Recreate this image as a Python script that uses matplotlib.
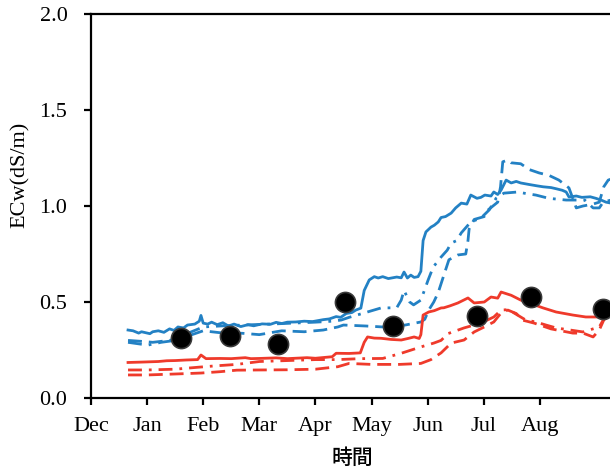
import matplotlib
matplotlib.use("Agg")
import matplotlib.pyplot as plt
import numpy as np

# Month positions: 0 = start of Dec, 1 = Jan, ... 8 = Aug
month_labels = ["Dec", "Jan", "Feb", "Mar", "Apr", "May", "Jun", "Jul", "Aug"]
y_ticks = [0.0, 0.5, 1.0, 1.5, 2.0]

# Simulated ECw series (month position, dS/m)
blue_solid = [
    (0.66, 0.354), (0.75, 0.350), (0.85, 0.338), (0.90, 0.345), (1.05, 0.335),
    (1.10, 0.345), (1.20, 0.350), (1.30, 0.342), (1.40, 0.360), (1.48, 0.352),
    (1.55, 0.370), (1.65, 0.365), (1.72, 0.380), (1.85, 0.385), (1.93, 0.400),
    (1.96, 0.430), (2.00, 0.390), (2.08, 0.385), (2.15, 0.395), (2.25, 0.382),
    (2.35, 0.392), (2.45, 0.375), (2.55, 0.385), (2.67, 0.372), (2.80, 0.382),
    (2.90, 0.376), (3.05, 0.386), (3.20, 0.384), (3.30, 0.394), (3.40, 0.388),
    (3.50, 0.395), (3.65, 0.396), (3.80, 0.400), (3.95, 0.398), (4.14, 0.408),
    (4.25, 0.412), (4.37, 0.424), (4.45, 0.420), (4.55, 0.440), (4.65, 0.445),
    (4.72, 0.458), (4.81, 0.468), (4.87, 0.560), (4.96, 0.615), (5.05, 0.632),
    (5.12, 0.625), (5.20, 0.632), (5.30, 0.622), (5.45, 0.630), (5.53, 0.626),
    (5.58, 0.656), (5.64, 0.625), (5.70, 0.640), (5.76, 0.628), (5.83, 0.632),
    (5.88, 0.660), (5.92, 0.820), (5.97, 0.865), (6.06, 0.890), (6.12, 0.900),
    (6.19, 0.917), (6.24, 0.940), (6.32, 0.945), (6.42, 0.963), (6.50, 0.990),
    (6.60, 1.015), (6.70, 1.010), (6.77, 1.057), (6.88, 1.040), (6.95, 1.045),
    (7.02, 1.057), (7.13, 1.052), (7.18, 1.073), (7.25, 1.060), (7.31, 1.083),
    (7.40, 1.135), (7.49, 1.120), (7.58, 1.128), (7.66, 1.120), (7.81, 1.112),
    (7.95, 1.105), (8.06, 1.100), (8.20, 1.096), (8.29, 1.090), (8.40, 1.082),
    (8.47, 1.073), (8.52, 1.047), (8.65, 1.052), (8.75, 1.045), (8.90, 1.048),
    (9.00, 1.040), (9.10, 1.030), (9.18, 1.020), (9.27, 1.015),
]
blue_dash = [
    (0.66, 0.300), (0.90, 0.295), (1.10, 0.290), (1.40, 0.300), (1.80, 0.330),
    (2.00, 0.350), (2.30, 0.340), (2.70, 0.337), (3.00, 0.330), (3.40, 0.350),
    (3.80, 0.345), (4.14, 0.354), (4.40, 0.370), (4.50, 0.380), (4.90, 0.375),
    (5.20, 0.370), (5.60, 0.380), (5.88, 0.396), (5.95, 0.410), (6.02, 0.458),
    (6.11, 0.500), (6.19, 0.550), (6.29, 0.640), (6.38, 0.720), (6.54, 0.745),
    (6.68, 0.750), (6.72, 0.820), (6.74, 0.880), (6.83, 0.930), (7.01, 0.945),
    (7.08, 0.980), (7.25, 1.020), (7.30, 1.100), (7.34, 1.230), (7.43, 1.240),
    (7.49, 1.225), (7.66, 1.220), (7.81, 1.190), (7.99, 1.172), (8.16, 1.160),
    (8.34, 1.135), (8.52, 1.094), (8.60, 1.030), (8.65, 0.990), (8.77, 1.000),
    (8.95, 1.010), (9.06, 1.020), (9.14, 1.100), (9.22, 1.135), (9.27, 1.140),
]
blue_dashdot = [
    (0.66, 0.290), (0.90, 0.280), (1.02, 0.276), (1.25, 0.290), (1.50, 0.300),
    (1.75, 0.340), (2.00, 0.370), (2.30, 0.375), (2.70, 0.380), (3.20, 0.385),
    (3.60, 0.390), (4.00, 0.395), (4.30, 0.400), (4.46, 0.406), (4.60, 0.420),
    (4.87, 0.443), (5.17, 0.469), (5.45, 0.470), (5.53, 0.510), (5.58, 0.560),
    (5.68, 0.500), (5.75, 0.485), (5.88, 0.510), (6.01, 0.615), (6.10, 0.682),
    (6.24, 0.734), (6.35, 0.770), (6.42, 0.807), (6.52, 0.820), (6.60, 0.860),
    (6.77, 0.917), (6.95, 0.937), (7.10, 0.980), (7.22, 1.040), (7.36, 1.067),
    (7.61, 1.073), (7.75, 1.065), (7.93, 1.057), (8.16, 1.040), (8.47, 1.031),
    (8.80, 1.031), (8.95, 0.990), (9.06, 0.990), (9.13, 1.020), (9.27, 1.031),
]
red_solid = [
    (0.66, 0.185), (0.90, 0.187), (1.20, 0.190), (1.35, 0.194), (1.50, 0.195),
    (1.70, 0.198), (1.90, 0.200), (1.96, 0.224), (2.05, 0.205), (2.30, 0.206),
    (2.50, 0.205), (2.75, 0.210), (2.85, 0.205), (3.00, 0.206), (3.30, 0.209),
    (3.50, 0.205), (3.85, 0.210), (4.00, 0.207), (4.30, 0.215), (4.37, 0.233),
    (4.60, 0.232), (4.80, 0.235), (4.87, 0.290), (4.93, 0.318), (5.05, 0.312),
    (5.17, 0.311), (5.35, 0.305), (5.53, 0.302), (5.65, 0.310), (5.76, 0.318),
    (5.85, 0.310), (5.88, 0.330), (5.92, 0.432), (6.02, 0.448), (6.12, 0.455),
    (6.24, 0.469), (6.29, 0.470), (6.40, 0.480), (6.54, 0.495), (6.72, 0.521),
    (6.83, 0.495), (7.01, 0.500), (7.13, 0.526), (7.25, 0.520), (7.31, 0.552),
    (7.49, 0.535), (7.66, 0.510), (7.81, 0.495), (8.06, 0.469), (8.29, 0.448),
    (8.59, 0.432), (8.82, 0.422), (9.06, 0.422), (9.27, 0.443),
]
red_dashdot = [
    (0.66, 0.146), (1.00, 0.146), (1.50, 0.150), (1.90, 0.160), (2.20, 0.167),
    (2.60, 0.175), (3.00, 0.190), (3.50, 0.195), (4.00, 0.200), (4.40, 0.200),
    (4.80, 0.205), (5.20, 0.206), (5.53, 0.233), (5.88, 0.266), (6.11, 0.286),
    (6.24, 0.300), (6.36, 0.335), (6.65, 0.365), (6.95, 0.390), (7.18, 0.422),
    (7.31, 0.458), (7.43, 0.460), (7.54, 0.443), (7.75, 0.406), (7.93, 0.396),
    (8.11, 0.380), (8.29, 0.365), (8.77, 0.344), (9.06, 0.370), (9.13, 0.406),
    (9.27, 0.443),
]
red_dash = [
    (0.66, 0.120), (1.00, 0.120), (1.50, 0.125), (1.96, 0.130), (2.30, 0.137),
    (2.60, 0.145), (3.00, 0.146), (3.50, 0.147), (4.00, 0.150), (4.40, 0.163),
    (4.60, 0.180), (5.00, 0.175), (5.50, 0.175), (5.88, 0.180), (6.06, 0.200),
    (6.24, 0.235), (6.42, 0.286), (6.65, 0.302), (6.83, 0.344), (7.01, 0.370),
    (7.18, 0.396), (7.31, 0.443), (7.43, 0.458), (7.58, 0.440), (7.70, 0.405),
    (7.90, 0.390), (8.20, 0.360), (8.59, 0.338), (8.77, 0.338), (8.95, 0.318),
    (9.06, 0.354), (9.14, 0.406), (9.27, 0.443),
]

# Measured ECw samples
obs_month = [1.60, 2.48, 3.33, 4.53, 5.39, 6.88, 7.84, 9.12]
obs_ecw = [0.311, 0.324, 0.281, 0.500, 0.377, 0.429, 0.524, 0.462]

BLUE = "#2381c4"
RED = "#ef3a2b"
SERIF = "Liberation Serif"
FS = 16

fig = plt.figure(figsize=(6.10, 4.72), dpi=100)
ax = fig.add_axes([91 / 610, 1 - 398 / 472, 530 / 610, 384 / 472])

dash = (5, 2.5)
dashdot = (5, 2.5, 1, 2.5)

def draw(series, color, pattern=None):
    arr = np.array(series)
    line, = ax.plot(arr[:, 0], arr[:, 1], color=color, lw=2.0, zorder=2,
                    solid_joinstyle="round")
    if pattern is not None:
        line.set_dashes(pattern)
    return line

draw(blue_solid, BLUE)
draw(blue_dash, BLUE, dash)
draw(blue_dashdot, BLUE, dashdot)
draw(red_solid, RED)
draw(red_dashdot, RED, dashdot)
draw(red_dash, RED, dash)

ax.plot(obs_month, obs_ecw, linestyle="none", marker="o", markersize=14.5,
        markerfacecolor="black", markeredgecolor="#3a3a3a", markeredgewidth=1.2,
        zorder=5)

ax.set_xlim(0, 530 / 56.1)
ax.set_ylim(0, 2.0)
ax.set_xticks(range(len(month_labels)))
ax.set_xticklabels(month_labels, fontfamily=SERIF, fontsize=FS)
ax.set_yticks(y_ticks)
ax.set_yticklabels([f"{v:.1f}" for v in y_ticks], fontfamily=SERIF, fontsize=FS)

for side in ["left", "bottom", "top", "right"]:
    ax.spines[side].set_linewidth(1.6)
    ax.spines[side].set_color("black")
ax.tick_params(axis="both", direction="out", length=5, width=1.6, color="black")
ax.tick_params(axis="y", pad=12)
ax.tick_params(axis="x", pad=9)

fig.text(20 / 610, 1 - 175 / 472, "ECw(dS/m)", rotation=90, ha="center",
         va="center", fontfamily=SERIF, fontsize=FS)
fig.text(352 / 610, 1 - 458 / 472, "時間", ha="center", va="center",
         fontfamily=["Noto Sans CJK JP", "DejaVu Sans"], fontsize=15,
         fontweight="medium")

fig.savefig("out.png", dpi=100)
